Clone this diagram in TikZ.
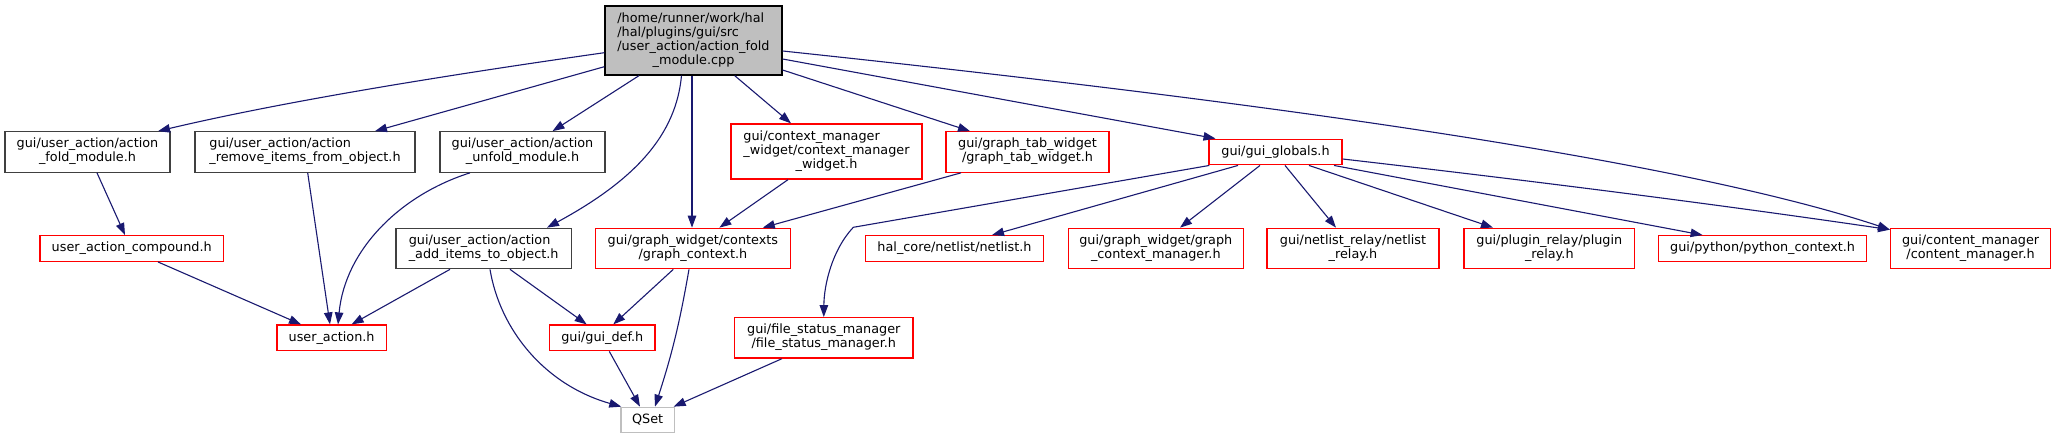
\documentclass[tikz,border=0pt]{standalone}
\usepackage{fontspec}
\setmainfont{DejaVu Sans}
\usetikzlibrary{arrows.meta}
\definecolor{edgeblue}{HTML}{191970}
\definecolor{grey75}{HTML}{BFBFBF}
\definecolor{grey25}{HTML}{404040}
\newcommand{\mylines}[2]{\begin{tabular}{@{}l@{}}#1\\\multicolumn{1}{@{}c@{}}{#2}\end{tabular}}
\begin{document}
\begin{tikzpicture}[x=1pt,y=-1pt,
  nodebase/.style={draw,line width=1.3pt,inner sep=0pt,text=black,
    font=\fontsize{12.8}{14.2}\selectfont},
  mainbox/.style={nodebase,draw=black,fill=grey75},
  blkbox/.style={nodebase,draw=grey25},
  redbox/.style={nodebase,draw=red},
  grybox/.style={nodebase,draw=grey75},
  edge/.style={draw=edgeblue,line width=1.1pt,-{Triangle[length=12pt,width=8.5pt]}}]
\useasboundingbox[fill=white] (0,0) rectangle (2056,439);

% nodes
\node[mainbox,minimum width=177pt,minimum height=69pt] (main) at (693.5,40.5)
  {\mylines{/home/runner/work/hal\\/hal/plugins/gui/src\\/user\_action/action\_fold}{\_module.cpp}};
\node[blkbox,minimum width=165pt,minimum height=40.4pt] (foldm) at (87.5,152)
  {\mylines{gui/user\_action/action}{\_fold\_module.h}};
\node[blkbox,minimum width=220pt,minimum height=40.4pt] (remove) at (305,152)
  {\mylines{gui/user\_action/action}{\_remove\_items\_from\_object.h}};
\node[blkbox,minimum width=165pt,minimum height=40.4pt] (unfold) at (522.5,152)
  {\mylines{gui/user\_action/action}{\_unfold\_module.h}};
\node[redbox,minimum width=191pt,minimum height=55pt] (ctxw) at (826.5,151.5)
  {\mylines{gui/context\_manager\\\_widget/context\_manager}{\_widget.h}};
\node[redbox,minimum width=163pt,minimum height=40.4pt] (tabw) at (1027.5,152)
  {\mylines{gui/graph\_tab\_widget}{/graph\_tab\_widget.h}};
\node[redbox,minimum width=133pt,minimum height=25.6pt] (glob) at (1275.5,152)
  {gui/gui\_globals.h};
\node[redbox,minimum width=183.7pt,minimum height=25.6pt] (uac) at (131.7,248.5)
  {user\_action\_compound.h};
\node[blkbox,minimum width=175.5pt,minimum height=40.4pt] (addi) at (483.7,248.5)
  {\mylines{gui/user\_action/action}{\_add\_items\_to\_object.h}};
\node[redbox,minimum width=195pt,minimum height=40.4pt] (gctx) at (692.9,248.5)
  {\mylines{gui/graph\_widget/contexts}{/graph\_context.h}};
\node[redbox,minimum width=178.5pt,minimum height=25.6pt] (netl) at (954.5,248.5)
  {hal\_core/netlist/netlist.h};
\node[redbox,minimum width=175pt,minimum height=40.4pt] (gcm) at (1155.8,248.5)
  {\mylines{gui/graph\_widget/graph}{\_context\_manager.h}};
\node[redbox,minimum width=172pt,minimum height=40.4pt] (nrel) at (1353,248.5)
  {\mylines{gui/netlist\_relay/netlist}{\_relay.h}};
\node[redbox,minimum width=170.6pt,minimum height=40.4pt] (prel) at (1549.3,248.5)
  {\mylines{gui/plugin\_relay/plugin}{\_relay.h}};
\node[redbox,minimum width=207.8pt,minimum height=25.6pt] (pyc) at (1762.6,248.5)
  {gui/python/python\_context.h};
\node[redbox,minimum width=160pt,minimum height=40.4pt] (cmgr) at (1970.6,248.5)
  {\mylines{gui/content\_manager}{/content\_manager.h}};
\node[redbox,minimum width=109.2pt,minimum height=25.7pt] (ua) at (331.6,337.9)
  {user\_action.h};
\node[redbox,minimum width=105.6pt,minimum height=25.7pt] (gdef) at (602.3,337.9)
  {gui/gui\_def.h};
\node[redbox,minimum width=178.5pt,minimum height=40.4pt] (fsm) at (823.8,337.9)
  {\mylines{gui/file\_status\_manager}{/file\_status\_manager.h}};
\node[grybox,minimum width=53.6pt,minimum height=25.4pt] (qset) at (647.7,420)
  {QSet};

% edges from main
\draw[edge] ([yshift=-12.2pt]main.west) .. controls (455,74) and (290,100) .. ([xshift=70.5pt]foldm.north);
\draw[edge] ([yshift=-26.2pt]main.west) -- ([xshift=70pt]remove.north);
\draw[edge] ([xshift=-54.5pt]main.south) -- ([xshift=30pt]unfold.north);
\draw[edge] ([xshift=-12pt]main.south) .. controls (676,135) and (635,180) .. ([xshift=63.3pt]addi.north);
\draw[edge] ([xshift=-1.5pt]main.south) -- ([xshift=-0.9pt]gctx.north);
\draw[edge] ([xshift=41.2pt]main.south) -- ([xshift=-35.5pt]ctxw.north);
\draw[edge] ([yshift=-29.5pt]main.east) -- ([xshift=-57.5pt]tabw.north);
\draw[edge] ([yshift=-18.5pt]main.east) -- ([xshift=-60pt]glob.north);
\draw[edge] ([yshift=-10.5pt]main.east) .. controls (1150,90) and (1650,150) .. ([yshift=-2pt]cmgr.north west);

% edges from gui_globals
\coordinate (kink) at (853.3,227.3);
\draw[edge] ([xshift=1pt]glob.south west) -- (kink) .. controls (832,250) and (824,285) .. (fsm.north);
\draw[edge] ([xshift=-37.5pt]glob.south) -- ([xshift=37.5pt]netl.north);
\draw[edge] ([xshift=-15.5pt]glob.south) -- ([xshift=24.2pt]gcm.north);
\draw[edge] ([xshift=9.5pt]glob.south) -- ([xshift=-17pt]nrel.north);
\draw[edge] ([xshift=33.5pt]glob.south) -- ([xshift=-56.3pt]prel.north);
\draw[edge] ([xshift=58.5pt]glob.south) -- ([xshift=-60pt]pyc.north);
\draw[edge] ([yshift=-7pt]glob.east) .. controls (1525,180) and (1708,203) .. ([yshift=-2pt]cmgr.north west);

% other edges
\draw[edge] ([xshift=-38.5pt]ctxw.south) -- ([xshift=26.5pt]gctx.north);
\draw[edge] ([xshift=-66.5pt]tabw.south) -- ([xshift=69.9pt]gctx.north);
\draw[edge] ([xshift=9.5pt]foldm.south) -- ([xshift=-6.7pt]uac.north);
\draw[edge] ([xshift=2.7pt]remove.south) -- ([xshift=-1.6pt]ua.north);
\draw[edge] ([xshift=-52.5pt]unfold.south) .. controls (400,195) and (345,250) .. ([xshift=6.4pt]ua.north);
\draw[edge] ([xshift=26.3pt]uac.south) -- ([xshift=-30.6pt]ua.north);
\draw[edge] ([xshift=-33.7pt]addi.south) -- ([xshift=20pt]ua.north);
\draw[edge] ([xshift=26.3pt]addi.south) -- ([xshift=-15.6pt]gdef.north);
\draw[edge] ([xshift=6.3pt]addi.south) .. controls (500,330) and (545,385) .. ([xshift=1pt]qset.north west);
\draw[edge] ([xshift=-19.6pt]gctx.south) -- ([xshift=11pt]gdef.north);
\draw[edge] ([xshift=-3.9pt]gctx.south) to[bend left=4] ([xshift=7.3pt]qset.north);
\draw[edge] ([xshift=7pt]gdef.south) -- ([xshift=-7.7pt]qset.north);
\draw[edge] ([xshift=-42pt]fsm.south) -- ([xshift=-1.5pt]qset.north east);
\end{tikzpicture}
\end{document}
